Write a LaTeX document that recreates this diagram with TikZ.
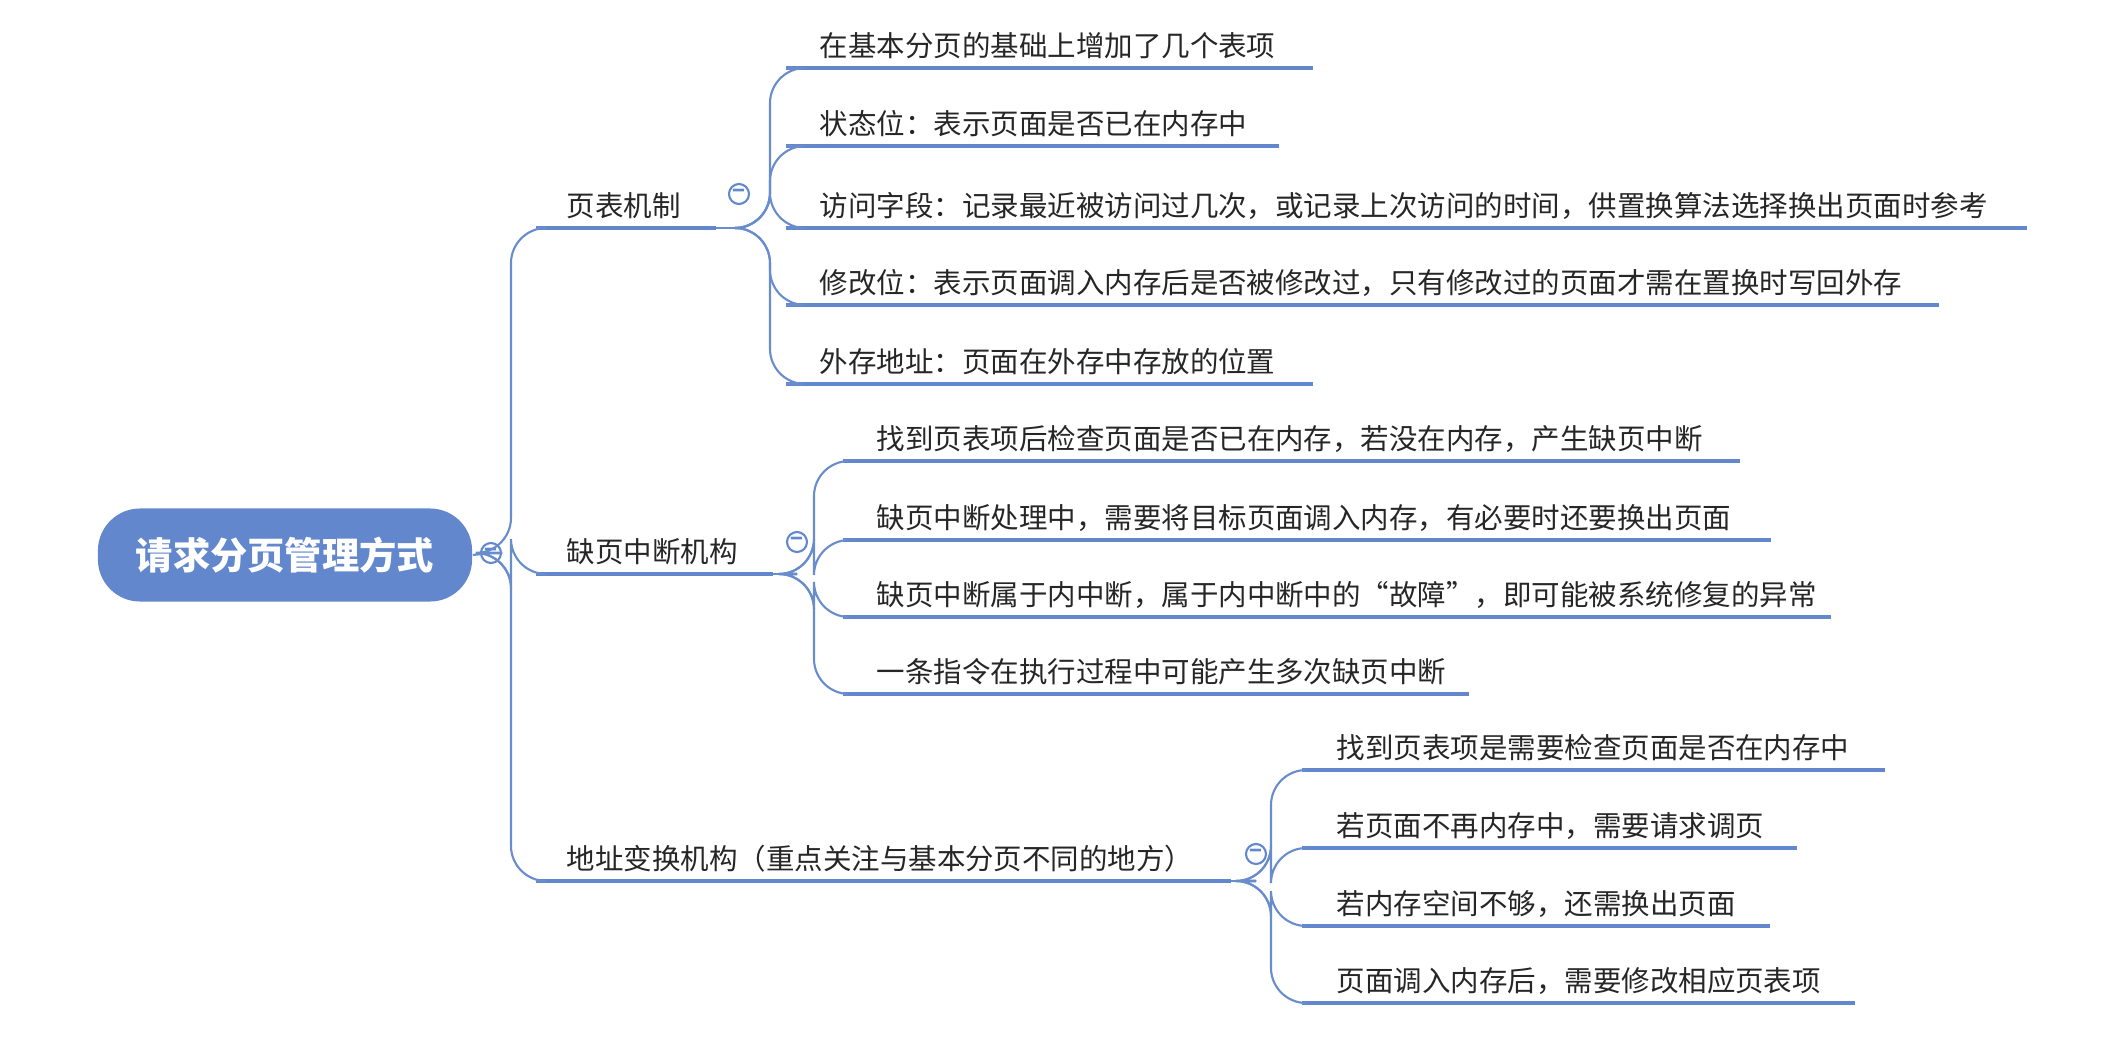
\documentclass[tikz,border=0pt]{standalone}
\usepackage{fontspec}
\setmainfont{Noto Sans CJK SC}
\definecolor{mblue}{RGB}{98,135,205}
\definecolor{lblue}{RGB}{105,140,205}
\tikzset{
  conn/.style={draw=lblue,line width=0.6pt,rounded corners=10pt},
  uline/.style={draw=mblue,line width=1.2pt},
  txt/.style={anchor=base west,inner sep=0pt,font=\fontsize{8.1}{9}\selectfont,text=black!85},
  colbtn/.style={circle,draw=mblue,fill=white,line width=0.6pt,minimum size=0.2cm,inner sep=0pt,font=\fontsize{6}{6}\selectfont\bfseries,text=mblue},
}
\newcommand\myleaf[6]{% name, parent, vx, startx, y, endx, text
  \coordinate (#1s) at (#4,#5);
  \coordinate (#1e) at (#6,#5);
  \draw[uline] (#1s) -- (#1e);
  \draw[conn] (#2) -| (#3,#5) -- (#1s);
}
\begin{document}
\begin{tikzpicture}[x=0.01cm,y=-0.01cm]
\useasboundingbox (0,0) rectangle (2126,1045);
% root
\node[fill=mblue,rounded corners=12pt,minimum width=3.74cm,minimum height=0.93cm,text=white,font=\fontsize{10.6}{12}\selectfont\bfseries] (root) at (285,555) {请求分页管理方式};
\node[colbtn] (rb) at (491,553) {−};
\coordinate (rp) at (root.east|-rb);
\draw[conn] (root.east) -- (rb);
% level 1
\myleaf{a}{rb.east}{511}{536}{228}{716}{}
\node[txt] (at) at (566,216) {页表机制};
\myleaf{b}{rb.east}{511}{536}{574}{773}{}
\node[txt] (bt) at (566,562) {缺页中断机构};
\myleaf{c}{rb.east}{511}{536}{881}{1231}{}
\node[txt] (ct) at (566,869) {地址变换机构（重点关注与基本分页不同的地方）};
% collapse buttons
\draw[conn] (ae) -- (739,228);
\draw[conn] (be) -- (797,574);
\draw[conn] (ce) -- (1256,881);
\coordinate (ap) at (739,228);
\coordinate (bp) at (797,574);
\coordinate (cp) at (1256,881);
\node[colbtn] at (739,194) {−};
\node[colbtn] at (797,542) {−};
\node[colbtn] at (1256,854) {−};
% page-table group
\myleaf{a1}{ap}{770}{786}{68}{1313}{}
\node[txt] (a1t) at (819,56) {在基本分页的基础上增加了几个表项};
\myleaf{a2}{ap}{770}{786}{146}{1279}{}
\node[txt] (a2t) at (819,134) {状态位：表示页面是否已在内存中};
\myleaf{a3}{ap}{770}{786}{228}{2027}{}
\node[txt] (a3t) at (819,216) {访问字段：记录最近被访问过几次，或记录上次访问的时间，供置换算法选择换出页面时参考};
\myleaf{a4}{ap}{770}{786}{305}{1939}{}
\node[txt] (a4t) at (819,293) {修改位：表示页面调入内存后是否被修改过，只有修改过的页面才需在置换时写回外存};
\myleaf{a5}{ap}{770}{786}{384}{1313}{}
\node[txt] (a5t) at (819,372) {外存地址：页面在外存中存放的位置};
% fault group
\myleaf{b1}{bp}{814}{843}{461}{1740}{}
\node[txt] (b1t) at (876,449) {找到页表项后检查页面是否已在内存，若没在内存，产生缺页中断};
\myleaf{b2}{bp}{814}{843}{540}{1771}{}
\node[txt] (b2t) at (876,528) {缺页中断处理中，需要将目标页面调入内存，有必要时还要换出页面};
\myleaf{b3}{bp}{814}{843}{617}{1831}{}
\node[txt] (b3t) at (876,605) {缺页中断属于内中断，属于内中断中的“故障”，即可能被系统修复的异常};
\myleaf{b4}{bp}{814}{843}{694}{1469}{}
\node[txt] (b4t) at (876,682) {一条指令在执行过程中可能产生多次缺页中断};
% address group
\myleaf{c1}{cp}{1271}{1302}{770}{1885}{}
\node[txt] (c1t) at (1336,758) {找到页表项是需要检查页面是否在内存中};
\myleaf{c2}{cp}{1271}{1302}{848}{1797}{}
\node[txt] (c2t) at (1336,836) {若页面不再内存中，需要请求调页};
\myleaf{c3}{cp}{1271}{1302}{926}{1770}{}
\node[txt] (c3t) at (1336,914) {若内存空间不够，还需换出页面};
\myleaf{c4}{cp}{1271}{1302}{1003}{1855}{}
\node[txt] (c4t) at (1336,991) {页面调入内存后，需要修改相应页表项};
\end{tikzpicture}
\end{document}
